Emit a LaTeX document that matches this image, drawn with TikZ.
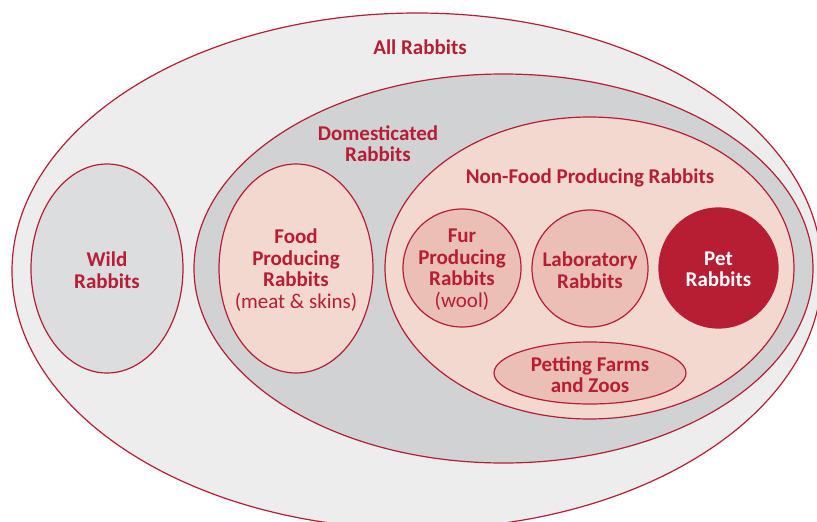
\documentclass[tikz,border=0pt]{standalone}
\usepackage{fontspec}
\setmainfont{Carlito}
\usetikzlibrary{shapes.geometric}
\definecolor{rabbitred}{HTML}{B71D33}
\definecolor{allgrey}{HTML}{EDEDED}
\definecolor{domgrey}{HTML}{D1D2D4}
\definecolor{wildgrey}{HTML}{DCDDDF}
\definecolor{lightpink}{HTML}{F3D8CF}
\definecolor{midpink}{HTML}{EBBFB6}
\begin{document}
\begin{tikzpicture}[x=1pt, y=-1pt, font=\fontsize{21}{21.5}\selectfont\bfseries,
    set/.style = {ellipse, draw=rabbitred, line width=1.2pt, inner sep=0pt},
    lbl/.style = {align=center, text=rabbitred, inner sep=0pt, yshift=-1.5pt}]
    \useasboundingbox (0,0) rectangle (817,522);
    \node[set, fill=allgrey, minimum width=810pt, minimum height=516pt] (all) at (417,271) {};
    \node[set, fill=wildgrey, minimum width=152pt, minimum height=209pt] (wild) at (107,268.5) {};
    \node[set, fill=domgrey, minimum width=619pt, minimum height=389pt] (dom) at (503.5,268.5) {};
    \node[set, fill=lightpink, minimum width=154pt, minimum height=209pt] (food) at (296,268.5) {};
    \node[set, fill=lightpink, minimum width=409pt, minimum height=302pt] (nonfood) at (589.5,268) {};
    \node[set, fill=midpink, minimum width=118pt, minimum height=118pt] (fur) at (462,268) {};
    \node[set, fill=midpink, minimum width=116pt, minimum height=117pt] (lab) at (590,268.5) {};
    \node[set, fill=rabbitred, minimum width=119pt, minimum height=120pt] (pet) at (718.5,268) {};
    \node[set, fill=midpink, minimum width=192pt, minimum height=62pt] (zoo) at (590,373) {};

    \node[lbl] (alltxt) at (420,46) {All Rabbits};
    \node[lbl] (domtxt) at (378,142) {Domesticated\\Rabbits};
    \node[lbl] (nonfoodtxt) at (590,176) {Non-Food Producing Rabbits};
    \node[lbl] (wildtxt) at (wild) {Wild\\Rabbits};
    \node[lbl] (foodtxt) at (food) {Food\\Producing\\Rabbits\\{\mdseries(meat \& skins)}};
    \node[lbl] (furtxt) at (fur) {Fur\\Producing\\Rabbits\\{\mdseries(wool)}};
    \node[lbl] (labtxt) at (lab) {Laboratory\\Rabbits};
    \node[lbl, text=white] (pettxt) at (pet) {Pet\\Rabbits};
    \node[lbl] (zootxt) at (zoo) {Petting Farms\\and Zoos};
\end{tikzpicture}
\end{document}
